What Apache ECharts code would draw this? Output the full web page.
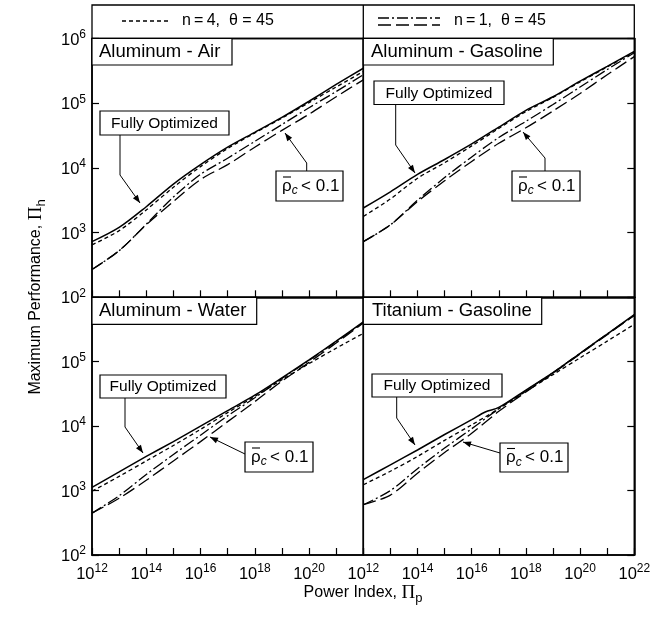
<!DOCTYPE html>
<html><head><meta charset="utf-8">
<script src="https://cdn.jsdelivr.net/npm/echarts@6/dist/echarts.min.js"></script>
<style>html,body{margin:0;padding:0;background:#fff}#c{width:670px;height:619px}</style>
</head><body><div id="c"></div>
<script>
// Power index (x) sampling points
const POWER_INDEX = [1e12,1e13,1e14,1e15,1e16,1e17,1e18,1e19,1e20,1e21,1e22];
const POWER_INDEX_TI_SOLID = [1e12,1e13,1e14,1e15,1e16,3.16e16,1e17,1e18,1e19,1e20,1e21,1e22];

// tick positions / labels
const X_TICKS = [1e12,1e13,1e14,1e15,1e16,1e17,1e18,1e19,1e20,1e21,1e22];
const X_LABELS_LEFT = [1e12,1e14,1e16,1e18,1e20];
const X_LABELS_RIGHT = [1e12,1e14,1e16,1e18,1e20,1e22];
const Y_TICKS = [1e2,1e3,1e4,1e5,1e6];
const Y_LABELS_TOP = [1e2,1e3,1e4,1e5,1e6];
const Y_LABELS_BOTTOM = [1e2,1e3,1e4,1e5];

// Aluminum - Air
const airSolid     = [724,1202,2512,5623,11220,20890,35480,60260,107200,195000,346700];
const airShortDash = [646,1072,2239,5012,10470,19950,34670,58880,102300,177800,309000];
const airDashDot   = [269,525,1349,3548,7943,14130,25700,46770,85110,151400,275400];
const airLongDash  = [269,525,1318,3020,6607,11220,20890,38020,67610,125900,229100];

// Aluminum - Gasoline
const gasSolid     = [2399,4266,7943,13490,23440,42660,77620,125900,218800,371500,631000];
const gasShortDash = [1778,3311,6918,12020,21880,40740,74130,123000,213800,363100,616600];
const gasDashDot   = [724,1318,3162,7079,14790,29510,52480,95500,177800,331100,602600];
const gasLongDash  = [724,1318,3020,6310,12590,23990,41690,75860,141300,275400,524800];

// Aluminum - Water
const watSolid     = [1122,1950,3388,5754,10000,17380,30200,56230,107200,208900,416900];
const watShortDash = [977,1660,2884,5012,8913,16220,28840,52480,93330,162200,275400];
const watDashDot   = [447,832,1778,3631,7244,14450,27540,54950,104700,204200,407400];
const watLongDash  = [447,759,1445,2884,5754,11750,23990,50120,97720,195000,398100];

// Titanium - Gasoline
const tiSolid      = [1479,2512,4266,7413,12590,16600,19500,36310,67610,134900,269200,537000];
const tiShortDash  = [1230,1995,3388,6026,10470,18620,34670,63100,114800,208900,380200];
const tiDashDot    = [603,1000,2188,4571,9120,18620,35480,67610,134900,269200,524800];
const tiLongDash   = [603,851,1862,3890,7762,16980,33880,66070,131800,263000,524800];

const PANEL_TITLES = ['Aluminum - Air','Aluminum - Gasoline','Aluminum - Water','Titanium - Gasoline'];

const FONT = 'Liberation Sans, Arial, Helvetica, sans-serif';
const chart = echarts.init(document.getElementById('c'), null, {renderer:'canvas'});

function pair(xs, ys){ return xs.map((x,i)=>[x, ys[i]]); }

const STYLES = {
  solid: {type:'solid', width:1.5},
  shortDash: {type:[4,3], width:1.3},
  dashDot: {type:[11,3,2,3], width:1.3},
  longDash: {type:[13,5], width:1.3}
};

const panels = [
  {solid:[POWER_INDEX,airSolid], shortDash:[POWER_INDEX,airShortDash], dashDot:[POWER_INDEX,airDashDot], longDash:[POWER_INDEX,airLongDash]},
  {solid:[POWER_INDEX,gasSolid], shortDash:[POWER_INDEX,gasShortDash], dashDot:[POWER_INDEX,gasDashDot], longDash:[POWER_INDEX,gasLongDash]},
  {solid:[POWER_INDEX,watSolid], shortDash:[POWER_INDEX,watShortDash], dashDot:[POWER_INDEX,watDashDot], longDash:[POWER_INDEX,watLongDash]},
  {solid:[POWER_INDEX_TI_SOLID,tiSolid], shortDash:[POWER_INDEX,tiShortDash], dashDot:[POWER_INDEX,tiDashDot], longDash:[POWER_INDEX,tiLongDash]}
];

const grids = [
  {left:92, top:38.5, width:271.3, height:258.8},
  {left:363.3, top:38.5, width:271, height:258.8},
  {left:92, top:297.3, width:271.3, height:257.7},
  {left:363.3, top:297.3, width:271, height:257.7}
].map(g=>Object.assign(g,{show:true, borderColor:'#000', borderWidth:1.5, containLabel:false}));

const rich = {
  b:{fontSize:16.5, fontFamily:FONT, color:'#000', lineHeight:20, verticalAlign:'bottom'},
  s:{fontSize:12, fontFamily:FONT, color:'#000', lineHeight:12, verticalAlign:'top'}
};

function fmt(v){ const e = Math.round(Math.log10(v)); return '{b|10}{s|'+e+'}'; }

const xAxes = [0,1,2,3].map(i=>({
  type:'log', logBase:10, gridIndex:i, min:1e12, max:1e22,
  axisLine:{show:true, lineStyle:{color:'#000', width:1.5}},
  axisTick:{show:true, inside:true, length:7, customValues:X_TICKS, lineStyle:{color:'#000', width:1.2}},
  splitLine:{show:false}, minorTick:{show:false},
  axisLabel:{show:i>=2, customValues:(i===2?X_LABELS_LEFT:X_LABELS_RIGHT), hideOverlap:false, margin:8, formatter:fmt, rich:rich, color:'#000'}
}));
const yAxes = [0,1,2,3].map(i=>({
  type:'log', logBase:10, gridIndex:i, min:100, max:1e6,
  position: (i%2===0)?'left':'right',
  axisLine:{show:true, lineStyle:{color:'#000', width:1.5}},
  axisTick:{show:true, inside:true, length:7, customValues:Y_TICKS, lineStyle:{color:'#000', width:1.2}},
  splitLine:{show:false}, minorTick:{show:false},
  axisLabel:{show:i%2===0, customValues:(i===2?Y_LABELS_BOTTOM:Y_LABELS_TOP), hideOverlap:false, margin:6, formatter:fmt, rich:rich, color:'#000'}
}));

const series = [];
panels.forEach((p,i)=>{
  ['solid','shortDash','dashDot','longDash'].forEach(k=>{
    series.push({
      type:'line', xAxisIndex:i, yAxisIndex:i, data:pair(p[k][0], p[k][1]),
      showSymbol:false, smooth:0.3, silent:true, animation:false,
      lineStyle:{color:'#000', width:STYLES[k].width, type:STYLES[k].type}
    });
  });
});

// ---- annotation graphics ----
const G = [];
function rect(x,y,w,h){ G.push({type:'rect', shape:{x,y,width:w,height:h}, style:{fill:'#fff', stroke:'#000', lineWidth:1.2}, z:50}); }
function line(x1,y1,x2,y2,dash,w,z){ G.push({type:'line', shape:{x1,y1,x2,y2}, style:{stroke:'#000', lineWidth:w||1.3, lineDash:dash||null}, z:z||50}); }
function text(x,y,t,size,align,extra){ G.push({type:'text', x, y, style:Object.assign({text:t, font:size+'px '+FONT, fill:'#000', align:align||'left', verticalAlign:'middle'}, extra||{}), z:51}); }
function arrow(pts){
  G.push({type:'polyline', shape:{points:pts}, style:{stroke:'#000', lineWidth:1, fill:null}, z:50});
  const [x2,y2]=pts[pts.length-1], [x1,y1]=pts[pts.length-2];
  const a=Math.atan2(y2-y1,x2-x1), L=8, W=3;
  const bx=x2-L*Math.cos(a), by=y2-L*Math.sin(a);
  G.push({type:'polygon', shape:{points:[[x2,y2],[bx+W*Math.sin(a),by-W*Math.cos(a)],[bx-W*Math.sin(a),by+W*Math.cos(a)]]}, style:{fill:'#000'}, z:50});
}

// legend box
G.push({type:'rect', shape:{x:92,y:5,width:542.3,height:33.5}, style:{fill:'none', stroke:'#000', lineWidth:1.3}, z:40});
line(363.3,5,363.3,38.5);
line(122,21,170,21,[4,3]);
text(182,21,'n\u2009=\u20094,  \u03b8 = 45',16);
line(378,18,440,18,[11,3,2,3]);
line(378,25,440,25,[13,5]);
text(454,21,'n\u2009=\u20091,  \u03b8 = 45',16);

// panel titles
rect(92,38.5,140,26.5); text(99,52,PANEL_TITLES[0],18.5);
rect(363.3,38.5,190,26.5); text(371,52,PANEL_TITLES[1],18.5);
rect(92,297.3,164.7,27); text(99,311,PANEL_TITLES[2],18.5);
rect(363.3,297.3,178.4,27); text(372,311,PANEL_TITLES[3],18.5);

// Fully Optimized callouts
const FO = [[100,111,129,24,[[120,135],[120,175],[140,203]]],
            [374,81,130,23.5,[[395.7,104.5],[395.7,145],[415,173]]],
            [100,375,126,23,[[125,398],[125,427],[143,453]]],
            [372,374,130,23,[[396.7,397],[396.7,418],[415,445]]]];
FO.forEach(([x,y,w,h,pts])=>{ arrow(pts); rect(x,y,w,h); text(x+w/2,y+h/2+0.5,'Fully Optimized',15.5,'center'); });

// rho callouts
const RHO = [[276,171,67,30,[[306.7,171],[306.7,163],[285,133]]],
             [512,171,68,30,[[545,171],[545,158],[523,132]]],
             [245,442,68,30,[[245,454],[210,437]]],
             [500,443,68,29,[[500,453],[463,442]]]];
RHO.forEach(([x,y,w,h,pts])=>{
  arrow(pts); rect(x,y,w,h);
  G.push({type:'text', x:x+6, y:y+h/2, z:51, style:{
    text:'{r|\u03c1}{c|c}{t|\u2009< 0.1}', verticalAlign:'middle', align:'left',
    rich:{ r:{fontSize:17, fontFamily:FONT, fill:'#000', lineHeight:22, verticalAlign:'middle'},
           c:{fontSize:12, fontFamily:FONT, fontStyle:'italic', fill:'#000', lineHeight:22, verticalAlign:'bottom'},
           t:{fontSize:17, fontFamily:FONT, fill:'#000', lineHeight:22, verticalAlign:'middle'} }
  }});
  line(x+7, y+h/2-9, x+15, y+h/2-9, null, 1.1, 52);
});

// axis titles
G.push({type:'text', x:36, y:297, rotation:Math.PI/2, z:51, style:{
  text:'{a|Maximum Performance, }{p|\u03a0}{h|h}', align:'center', verticalAlign:'middle',
  rich:{ a:{fontSize:16, fontFamily:FONT, fill:'#000', lineHeight:24, verticalAlign:'middle'},
         p:{fontSize:19, fontFamily:'Liberation Serif, serif', fill:'#000', lineHeight:24, verticalAlign:'middle'},
         h:{fontSize:13, fontFamily:FONT, fill:'#000', lineHeight:24, verticalAlign:'bottom'} }
}});
G.push({type:'text', x:363, y:593, z:51, style:{
  text:'{a|Power Index, }{p|\u03a0}{h|p}', align:'center', verticalAlign:'middle',
  rich:{ a:{fontSize:16, fontFamily:FONT, fill:'#000', lineHeight:24, verticalAlign:'middle'},
         p:{fontSize:19, fontFamily:'Liberation Serif, serif', fill:'#000', lineHeight:24, verticalAlign:'middle'},
         h:{fontSize:13, fontFamily:FONT, fill:'#000', lineHeight:24, verticalAlign:'bottom'} }
}});

chart.setOption({
  animation:false,
  backgroundColor:'#fff',
  textStyle:{fontFamily:FONT},
  grid:grids, xAxis:xAxes, yAxis:yAxes, series:series, graphic:G
});
</script>
</body></html>
